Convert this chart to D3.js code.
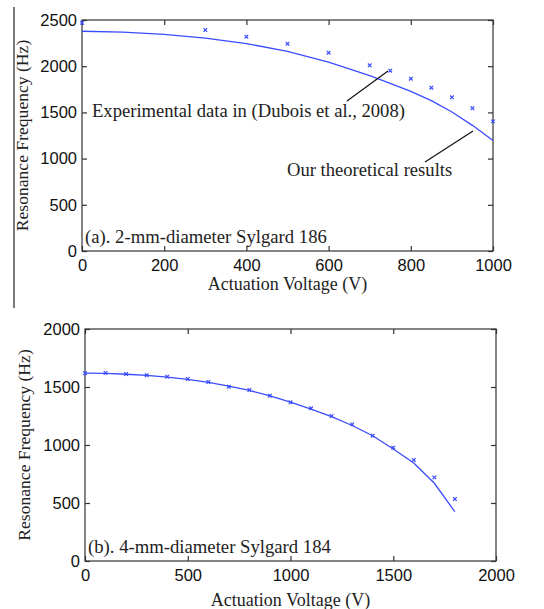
<!DOCTYPE html>
<html><head><meta charset="utf-8">
<script src="https://cdn.jsdelivr.net/npm/d3@7/dist/d3.min.js"></script>
<style>body{margin:0;background:#fff}</style>
</head><body><svg id="c" width="544" height="609"></svg>
<script>
// Panel (a): 2-mm-diameter Sylgard 186
const aExpV = [0, 300, 400, 500, 600, 700, 750, 800, 850, 900, 950, 1000];
const aExpF = [2470, 2392, 2319, 2244, 2146, 2010, 1951, 1865, 1767, 1663, 1544, 1403];
const aThV = [0, 100, 200, 300, 400, 500, 600, 700, 750, 800, 850, 900, 950, 1000];
const aThF = [2378, 2368, 2345, 2303, 2245, 2160, 2045, 1898, 1815, 1728, 1628, 1505, 1360, 1195];
const aXTicks = [0, 200, 400, 600, 800, 1000];
const aYTicks = [0, 500, 1000, 1500, 2000, 2500];
// Panel (b): 4-mm-diameter Sylgard 184
const bExpV = [0,100,200,300,400,500,600,700,800,900,1000,1100,1200,1300,1400,1500,1600,1700,1800];
const bExpF = [1618,1621,1612,1601,1589,1569,1543,1503,1474,1425,1368,1316,1250,1178,1080,977,871,721,534];
const bThV = [0,100,200,300,400,500,600,700,800,900,1000,1100,1200,1300,1400,1500,1600,1700,1800];
const bThF = [1620,1617,1610,1600,1585,1565,1540,1507,1470,1423,1370,1310,1245,1168,1080,965,845,670,425];
const bXTicks = [0, 500, 1000, 1500, 2000];
const bYTicks = [0, 500, 1000, 1500, 2000];

const svg = d3.select("#c");
const serif = "'Liberation Serif', 'Times New Roman', serif";
const sans = "'Liberation Sans', Arial, sans-serif";
const blue = "#3a4cff";

// left border artifact
svg.append("line").attr("x1",14).attr("x2",14).attr("y1",7).attr("y2",308)
  .attr("stroke","#222").attr("stroke-width",1.2);

function panel(o){
  const g = svg.append("g");
  const x = d3.scaleLinear().domain(o.xd).range([o.l, o.r]);
  const y = d3.scaleLinear().domain(o.yd).range([o.b, o.t]);
  g.append("rect").attr("x",o.l).attr("y",o.t).attr("width",o.r-o.l).attr("height",o.b-o.t)
    .attr("fill","none").attr("stroke","#333").attr("stroke-width",1.2);
  const tl = 5;
  const xb = d3.axisBottom(x).tickValues(o.xt).tickSize(-tl).tickPadding(8).tickFormat(d3.format("d"));
  const xtop = d3.axisTop(x).tickValues(o.xt).tickSize(-tl).tickFormat("");
  const yl = d3.axisLeft(y).tickValues(o.yt).tickSize(-tl).tickPadding(5).tickFormat(d3.format("d"));
  const yr = d3.axisRight(y).tickValues(o.yt).tickSize(-tl).tickFormat("");
  const ax = [
    g.append("g").attr("transform",`translate(0,${o.b})`).call(xb),
    g.append("g").attr("transform",`translate(0,${o.t})`).call(xtop),
    g.append("g").attr("transform",`translate(${o.l},0)`).call(yl),
    g.append("g").attr("transform",`translate(${o.r},0)`).call(yr)
  ];
  ax.forEach(a=>{
    a.select(".domain").remove();
    a.selectAll("line").attr("stroke","#333").attr("stroke-width",1.2);
    a.selectAll("text").attr("font-family",sans).attr("font-size",16.5).attr("fill","#111");
  });
  const line = d3.line().x(d=>x(d[0])).y(d=>y(d[1]));
  g.append("path").datum(o.thV.map((v,i)=>[v,o.thF[i]])).attr("d",line)
    .attr("fill","none").attr("stroke",blue).attr("stroke-width",1.3);
  const s = 1.8;
  o.exV.forEach((v,i)=>{
    const cx = x(v), cy = y(o.exF[i]);
    g.append("path").attr("d",`M${cx-s},${cy-s}L${cx+s},${cy+s}M${cx-s},${cy+s}L${cx+s},${cy-s}`)
      .attr("stroke",blue).attr("stroke-width",1.2).attr("fill","none");
  });
  g.append("text").attr("x",(o.l+o.r)/2).attr("y",o.xty).attr("text-anchor","middle")
    .attr("font-family",serif).attr("font-size",18).attr("fill","#222").text("Actuation Voltage (V)");
  g.append("text").attr("transform",`translate(${o.ytx},${(o.t+o.b)/2}) rotate(-90)`)
    .attr("text-anchor","middle").attr("dominant-baseline","central")
    .attr("font-family",serif).attr("font-size",17.6).attr("fill","#222").text("Resonance Frequency (Hz)");
  g.append("text").attr("x",o.l+3).attr("y",o.b-8)
    .attr("font-family",serif).attr("font-size",18.7).attr("fill","#222").text(o.label);
  return {x,y,g};
}

const A = panel({l:82,r:493,t:20,b:251,xd:[0,1000],yd:[0,2500],xt:aXTicks,yt:aYTicks,
  thV:aThV,thF:aThF,exV:aExpV,exF:aExpF,xty:290,ytx:22,label:"(a). 2-mm-diameter Sylgard 186"});
const B = panel({l:85,r:496,t:329,b:561,xd:[0,2000],yd:[0,2000],xt:bXTicks,yt:bYTicks,
  thV:bThV,thF:bThF,exV:bExpV,exF:bExpF,xty:606,ytx:24,label:"(b). 4-mm-diameter Sylgard 184"});

A.g.append("text").attr("x",92).attr("y",117).attr("font-family",serif).attr("font-size",18.6)
  .attr("fill","#222").text("Experimental data in (Dubois et al., 2008)");
A.g.append("line").attr("x1",347).attr("y1",101).attr("x2",388).attr("y2",71)
  .attr("stroke","#111").attr("stroke-width",1.2);
A.g.append("text").attr("x",287).attr("y",176).attr("font-family",serif).attr("font-size",18.6)
  .attr("fill","#222").text("Our theoretical results");
A.g.append("line").attr("x1",425).attr("y1",162).attr("x2",473).attr("y2",131)
  .attr("stroke","#111").attr("stroke-width",1.2);
</script></body></html>
